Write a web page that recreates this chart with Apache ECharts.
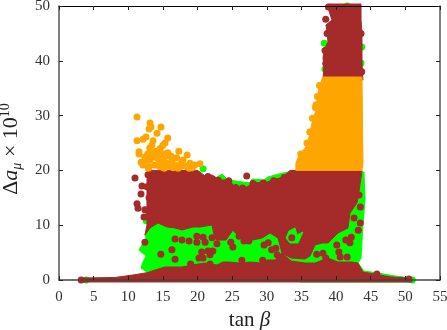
<!DOCTYPE html>
<html><head><meta charset="utf-8">
<style>html,body{margin:0;padding:0;background:#fff}#c{width:447px;height:330px}</style>
<script src="https://cdn.jsdelivr.net/npm/echarts@6/dist/echarts.min.js"></script></head>
<body><div id="c"></div>
<script>
const xTicks=[0,5,10,15,20,25,30,35,40,45,50,55];
const yTicks=[0,10,20,30,40,50];
const greenEnvelope=[[22.09,18.25],[23.53,19.34],[24.4,18.25],[27.57,17.7],[27.86,18.43],[29.59,18.25],[30.17,18.8],[31.76,19.34],[33.06,19.71],[34.21,20],[44.03,19.71],[44.17,14.6],[43.88,10.04],[43.6,4.01],[43.16,3.1],[44.03,1.64],[46.05,1.28],[48.5,.73],[50.96,.36],[51.1,0],[50.96,-.36],[34.79,-.36],[30,5]];
const brownUpper=[[12.41,8.21],[12.7,10.04],[12.7,18.25],[12.85,20],[20,20],[20.35,19.71],[21.08,18.98],[22.09,19.16],[23.24,18.25],[24.69,18.25],[25.26,16.97],[27.14,16.97],[28,17.7],[30.03,17.88],[30.89,18.25],[32.34,18.8],[33.35,20],[43.74,20],[43.45,17.34],[43.02,14.05],[42.01,12.23],[41.72,9.49],[40.28,8.58],[38.83,6.75],[37.97,6.75],[36.96,6.39],[36.23,4.38],[35.51,3.83],[33.49,4.01],[32.19,4.93],[31.62,7.66],[30.46,8.58],[29.3,7.66],[28,7.3],[26.56,7.3],[25.84,8.03],[25.12,9.12],[24.11,7.3],[23.24,7.3],[22.38,8.21],[22.09,10.04],[20.35,9.67],[19.34,9.67],[17.76,9.12],[16.75,9.49],[15.59,9.67],[14.29,10.4],[13.14,9.49]];
const brownLower=[[3.03,-.36],[3.03,.36],[8.08,.46],[10.68,.91],[12.85,1.37],[13.86,1.82],[15.3,2.37],[17.76,2.37],[19.2,2.74],[21.08,3.1],[22.81,2.74],[23.67,3.28],[24.69,3.28],[26.13,3.1],[27.57,3.28],[29.3,3.1],[30.03,3.65],[31.18,3.65],[32.19,4.93],[33.49,3.47],[35.51,3.1],[36.96,3.1],[38.83,4.01],[40.28,3.28],[42.3,3.28],[43.16,3.1],[43.88,1.46],[45.91,1.0],[47.93,.55],[50.53,.36],[50.96,.09],[50.96,-.36]];
const brownColumn=[[38.11,36.5],[38.25,39.23],[38.11,40.51],[38.25,41.97],[38.83,43.43],[38.69,45.25],[38.54,46.53],[39.41,47.45],[38.83,49.64],[38.98,50.36],[43.6,50.36],[43.6,47.45],[43.74,45.07],[43.74,42.52],[43.74,39.6],[43.88,36.5]];
const orangeColumn=[[34.2,20],[34.2,21.35],[34.65,22.81],[35.66,24.27],[36.09,26.09],[36.52,28.65],[36.96,30.47],[37.24,32.85],[37.53,35.22],[38.11,37.04],[43.74,37.04],[43.88,21.35],[43.74,20]];
const greenBandLeft=[[12.41,8.21],[13.14,9.49],[14.29,10.4],[15.59,9.67],[16.75,9.49],[17.76,9.12],[19.34,9.67],[20.35,9.67],[22.09,10.04],[22.38,8.21],[23.24,7.3],[24.11,7.3],[25.12,9.12],[25.84,8.03],[26.56,7.3],[28,7.3],[29.3,7.66],[30.46,8.58],[31.62,7.66],[32.19,4.93],[31.18,3.65],[30.03,3.65],[29.3,3.1],[27.57,3.28],[26.13,3.1],[24.69,3.28],[23.67,3.28],[22.81,2.74],[21.08,3.1],[19.2,2.74],[17.76,2.37],[15.3,2.37],[13.86,1.82],[12.85,1.28],[11.84,2.19],[12.13,3.28],[12.56,4.38],[11.55,5.47],[12.13,6.75],[12.56,7.66]];
const greenBandRight=[[33.49,4.01],[35.51,3.83],[36.23,4.38],[36.96,6.39],[37.97,6.75],[38.83,6.75],[40.28,8.58],[41.72,9.49],[42.01,12.23],[43.02,14.05],[43.45,17.34],[43.88,19.16],[44.03,14.96],[43.88,10.58],[43.45,8.76],[43.45,4.01],[42.3,3.28],[40.28,3.28],[38.83,4.01],[36.96,3.1],[35.51,3.1],[33.49,3.47]];
const greenRing=[[33.2,8.94],[34.07,9.49],[34.36,8.21],[35.22,8.76],[34.5,6.75],[33.35,6.75],[32.77,7.66]];
const greenDots=[[38.3,43.2],[43.7,42.5],[43.6,39.6],[38.4,38.5],[41.6,50],[18.6,20.6],[20.8,20.3],[3.9,0],[51,0],[12.6,10.8]];
const brownDots=[[10.97,18.6],[11.98,17.15],[11.84,15.7],[11.26,13.9],[11.4,13.1],[12.27,11.5],[12.85,19.2],[12.4,6.9],[12.4,12.8],[12.7,17],[16.75,7.5],[17.75,7.3],[18.77,7.1],[19.9,8],[19.9,6.9],[20.8,7.8],[21.1,6.9],[22.1,7.7],[23,7.8],[23.7,8.2],[22.8,6.6],[14.7,4.7],[16.3,5.5],[16.75,3.8],[20.6,5.1],[21.5,5.3],[22.2,5.3],[21.8,4.6],[20.2,4],[20.8,4],[19,2.9],[21.8,2.9],[27.1,19],[26,8],[25.1,6],[24.8,6.9],[26.7,7.1],[27.4,7.1],[29.6,6.4],[30.2,6.8],[31.3,5.8],[30.7,5.5],[31.5,4.6],[29.4,3.6],[26.4,3.6],[33.6,7.7],[37.2,4.7],[38.1,4.9],[38.5,4],[40.1,6.4],[40.4,5.1],[40.6,4.2],[41.4,7.3],[42,6.8],[42.2,7.8],[41.6,4.2],[43.2,9.1],[43.5,10.4],[42.6,11.3],[43.5,13.3],[43.3,15.5],[45.9,1.1],[50.5,.2],[3.2,0],[38.5,47.6],[38.7,45],[38.4,41.9],[38.5,39.5],[38.9,49.8],[43.6,45],[43.7,38],[14,19],[16,19.3],[18,19.4],[21.5,18.9],[23,18.2],[24.5,18.1],[25.5,16.9],[26.5,16.8],[28,17.6],[29.5,17.7],[31,18.1],[32.5,18.7],[13,15],[13,12]];
const orangeDots=[[11.26,29.74],[13.14,28.65],[13.28,27.9],[13,27.55],[14.72,27.9],[14.15,26.8],[12.56,26.1],[11.26,25.4],[12.13,25.7],[15.7,25.9],[13.57,25.4],[15.3,25],[15,24.6],[13.4,24.6],[13.1,24.1],[11.55,23.4],[11.55,23],[17.3,23.5],[18.5,22.8],[15.7,23.2],[14.3,23.4],[12.4,22.4],[11.85,21.5],[12.1,21],[13.1,21.9],[13.9,22.4],[14.9,22.3],[15.3,21.5],[16.3,21.9],[17,22.3],[17.9,21.9],[18.9,21.3],[20.35,21.2],[19.6,21],[14.5,20.7],[16,20.7],[13,20.7],[17.5,20.7],[15.2,23],[14,23.5],[12.8,23],[14.5,21.5],[16.5,20.5],[18.8,20.4],[13.8,21],[14.8,20.6],[15.8,21.2],[16.8,21],[17.6,21.2],[12.7,21.8],[14.3,22.2],[15.4,22.6],[13.5,23],[14.6,24],[16.2,22.6],[18.2,20.8],[19.2,20.5],[12.9,20.4],[15.2,20.4],[17.2,20.4],[36.2,27],[36.6,29.5],[37,31.5],[37.3,33.5],[37.6,35.5],[35.8,25],[34.9,23],[37.1,32]];

const BROWN='#a52a2a',GREEN='#00ff00',ORANGE='#ffa500',SERIF='"Liberation Serif","DejaVu Serif",serif';
const layers=[[greenEnvelope,GREEN],[greenBandLeft,GREEN],[greenBandRight,GREEN],[brownUpper,BROWN],[brownLower,BROWN],[brownColumn,BROWN],[greenRing,GREEN]];
const topLayers=[[orangeColumn,ORANGE]];
function regions(list,z){return{type:'custom',coordinateSystem:'cartesian2d',data:[[0,0]],z:z,silent:true,clip:false,
  renderItem(p,api){
    return{type:'group',children:list.map(([pts,color],i)=>({type:'polygon',z2:i,shape:{points:pts.map(q=>api.coord(q))},style:{fill:color,stroke:color,lineWidth:1,lineJoin:'round'}}))};}};}
function dots(pts,color,z){return{type:'scatter',data:pts,symbolSize:7,z:z,silent:true,clip:false,itemStyle:{color:color,opacity:1},animation:false};}
const chart=echarts.init(document.getElementById('c'),null,{renderer:'canvas'});
const lab={fontFamily:SERIF,fontSize:15,color:'#333'};
chart.setOption({animation:false,backgroundColor:'#fff',
 grid:{left:59,right:7,top:6,bottom:50,show:false,outerBoundsMode:'none',containLabel:false},
 xAxis:[{type:'value',min:0,max:55,interval:5,z:10,position:'bottom',
   axisLine:{onZero:false,lineStyle:{color:'#444',width:1.5}},axisTick:{inside:true,length:4,lineStyle:{color:'#222'}},splitLine:{show:false},
   axisLabel:Object.assign({margin:10,hideOverlap:false,showMinLabel:true,showMaxLabel:true},lab),
   name:'{t|tan }{b|β}',nameLocation:'middle',nameGap:29,nameTextStyle:{rich:{t:{fontFamily:SERIF,fontSize:21,color:'#222'},b:{fontFamily:SERIF,fontSize:21,fontStyle:'italic',color:'#222'}}}},
  {type:'value',min:0,max:55,interval:5,z:10,position:'top',axisLine:{onZero:false,lineStyle:{color:'#000',width:1}},axisTick:{inside:true,length:4,lineStyle:{color:'#222'}},axisLabel:{show:false},splitLine:{show:false}}],
 yAxis:[{type:'value',min:0,max:50,interval:10,z:10,position:'left',
   axisLine:{onZero:false,lineStyle:{color:'#555',width:1.5}},axisTick:{inside:true,length:4,lineStyle:{color:'#222'}},splitLine:{show:false},
   axisLabel:Object.assign({margin:9,showMinLabel:true,showMaxLabel:true},lab),
   name:'{d|Δ}{i|a}{s|μ}{d| × 10}{u|10}',nameLocation:'middle',nameGap:32,nameRotate:90,
   nameTextStyle:{padding:[0,12,0,0],rich:{d:{fontFamily:SERIF,fontSize:22,color:'#222'},i:{fontFamily:SERIF,fontSize:22,fontStyle:'italic',color:'#222'},s:{fontFamily:SERIF,fontSize:14,fontStyle:'italic',color:'#222',verticalAlign:'bottom',lineHeight:26},u:{fontFamily:SERIF,fontSize:14,color:'#222',verticalAlign:'top',lineHeight:26}}}},
  {type:'value',min:0,max:50,interval:10,z:10,position:'right',axisLine:{onZero:false,lineStyle:{color:'#555',width:1.5}},axisTick:{inside:true,length:4,lineStyle:{color:'#222'}},axisLabel:{show:false},splitLine:{show:false}}],
 series:[
  dots(greenDots,GREEN,1),
  regions(layers,2),
  dots(brownDots,BROWN,4),
  regions(topLayers,5),dots(orangeDots,ORANGE,5)
 ]});
</script></body></html>
